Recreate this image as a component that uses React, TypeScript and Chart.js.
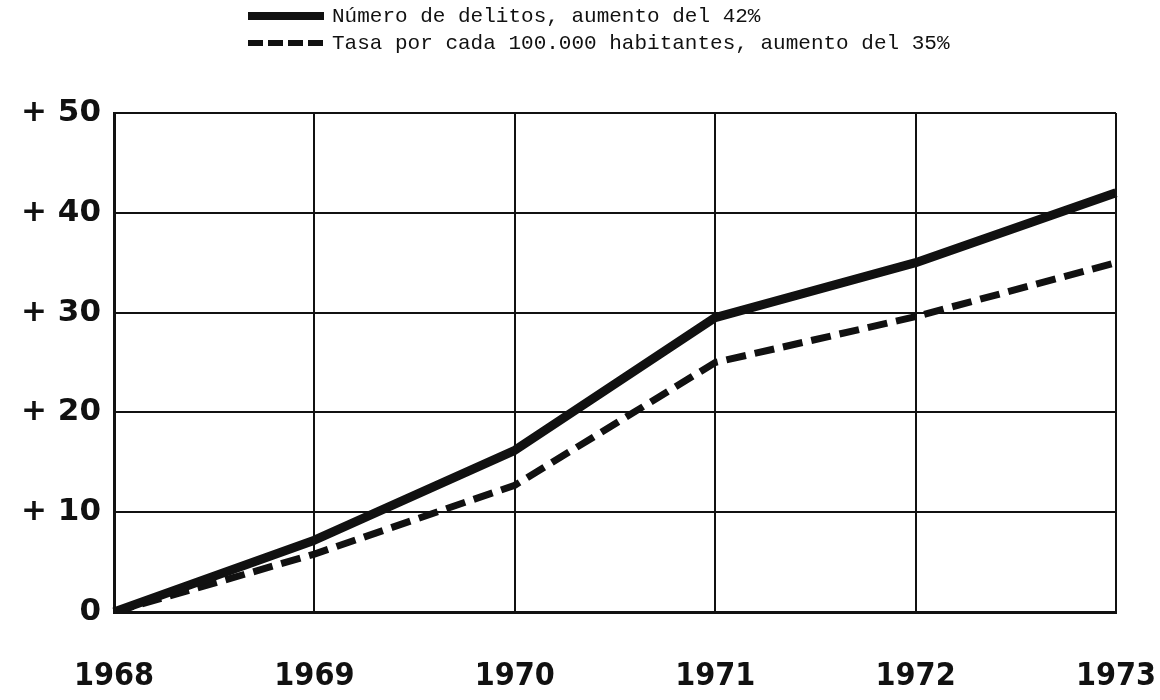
import React, { useEffect, useRef } from 'react';
import { Chart, registerables } from 'chart.js';

Chart.register(...registerables);

const years = ['1968', '1969', '1970', '1971', '1972', '1973'];
const delitos = [0, 7.2, 16.2, 29.5, 35, 42];
const tasa = [0, 5.8, 12.7, 25, 29.6, 35];
const seriesLabels = [
  'Número de delitos, aumento del 42%',
  'Tasa por cada 100.000 habitantes, aumento del 35%',
];
const yMin = 0;
const yMax = 50;
const yStep = 10;

const INK = '#111111';

const typedLegend = {
  id: 'typedLegend',
  afterDraw(chart: any) {
    const ctx = chart.ctx as CanvasRenderingContext2D;
    ctx.save();
    chart.data.datasets.forEach((ds: any, i: number) => {
      const y = 16 + i * 27;
      ctx.beginPath();
      ctx.setLineDash(i === 0 ? [] : [15, 5]);
      ctx.lineWidth = i === 0 ? 8 : 6;
      ctx.strokeStyle = INK;
      ctx.moveTo(248, y);
      ctx.lineTo(324, y);
      ctx.stroke();
      ctx.setLineDash([]);
      ctx.fillStyle = INK;
      ctx.font = '21px "Liberation Mono", "DejaVu Sans Mono", monospace';
      ctx.textBaseline = 'middle';
      ctx.textAlign = 'left';
      ctx.fillText(ds.label, 332, y);
    });
    ctx.restore();
  },
};

export default function App() {
  const ref = useRef<HTMLCanvasElement | null>(null);

  useEffect(() => {
    if (!ref.current) return;
    const chart = new Chart(ref.current, {
      type: 'line',
      data: {
        labels: years,
        datasets: [
          {
            label: seriesLabels[0],
            data: delitos,
            borderColor: INK,
            backgroundColor: INK,
            borderWidth: 9,
            pointRadius: 0,
            tension: 0,
            borderJoinStyle: 'round',
          },
          {
            label: seriesLabels[1],
            data: tasa,
            borderColor: INK,
            backgroundColor: INK,
            borderWidth: 7,
            borderDash: [20, 9],
            pointRadius: 0,
            tension: 0,
          },
        ],
      },
      options: {
        animation: false,
        responsive: false,
        maintainAspectRatio: false,
        layout: { padding: { top: 113, right: 44, left: 0, bottom: 0 } },
        plugins: {
          legend: { display: false },
          tooltip: { enabled: false },
        },
        scales: {
          x: {
            type: 'category',
            offset: false,
            afterFit: (s: any) => {
              s.height = 88;
              s.paddingLeft = 0;
              s.paddingRight = 0;
            },
            grid: { color: INK, lineWidth: 2, drawTicks: false },
            border: { display: true, color: INK, width: 3 },
            ticks: {
              color: INK,
              padding: 45,
              maxRotation: 0,
              autoSkip: false,
              font: {
                family: "'Liberation Sans Narrow', 'DejaVu Sans Condensed', 'Roboto Condensed', sans-serif",
                weight: 'bold',
                size: 32,
              },
            },
          },
          y: {
            min: yMin,
            max: yMax,
            afterFit: (s: any) => {
              s.width = 114;
              s.paddingTop = 0;
              s.paddingBottom = 0;
            },
            grid: { color: INK, lineWidth: 2, drawTicks: false },
            border: { display: true, color: INK, width: 3 },
            ticks: {
              stepSize: yStep,
              color: INK,
              padding: 13,
              callback: (v: any) => (Number(v) === 0 ? '0' : '+ ' + v),
              font: { family: "'DejaVu Sans', sans-serif", weight: 'bold', size: 31 },
            },
          },
        },
      },
      plugins: [typedLegend],
    });
    return () => chart.destroy();
  }, []);

  return (
    <div style={{ position: 'fixed', left: 0, top: 0, width: 1160, height: 700, background: '#fff' }}>
      <canvas ref={ref} width={1160} height={700} style={{ width: 1160, height: 700, display: 'block' }} />
    </div>
  );
}
